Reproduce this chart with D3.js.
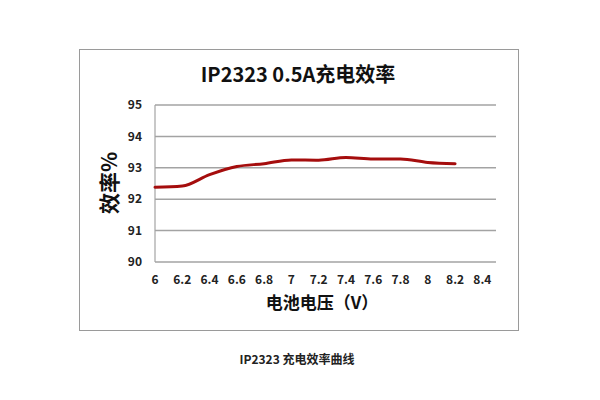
<!DOCTYPE html>
<html><head><meta charset="utf-8">
<script src="https://cdn.jsdelivr.net/npm/d3@7"></script>
<style>body{margin:0;background:#fff;} svg{display:block;}</style>
</head><body>
<svg id="c" width="600" height="400"></svg>
<script>
const voltages = [6.0, 6.2, 6.4, 6.6, 6.8, 7.0, 7.2, 7.4, 7.6, 7.8, 8.0, 8.2];
const efficiency = [92.38, 92.42, 92.78, 93.04, 93.13, 93.25, 93.24, 93.33, 93.28, 93.28, 93.17, 93.13];
const xTicks = [6, 6.2, 6.4, 6.6, 6.8, 7, 7.2, 7.4, 7.6, 7.8, 8, 8.2, 8.4];
const yTicks = [90, 91, 92, 93, 94, 95];
const title = "IP2323 0.5A充电效率";
const xTitle = "电池电压（V）";
const yTitle = "效率%";
const caption = "IP2323 充电效率曲线";

const svg = d3.select("#c");
const font = "'Noto Sans CJK SC','Noto Sans',sans-serif";
const L = 155, R = 496, T = 105, B = 262;
const x = d3.scaleLinear().domain([6, 8.5]).range([L, R]);
const y = d3.scaleLinear().domain([90, 95]).range([B, T]);

// frame
svg.append("rect").attr("x", 79.5).attr("y", 49.5).attr("width", 439).attr("height", 281)
  .attr("fill", "none").attr("stroke", "#9a9a9a").attr("stroke-width", 1);

// gridlines
svg.append("g").selectAll("line").data(yTicks).join("line")
  .attr("x1", L).attr("x2", R).attr("y1", d => y(d)).attr("y2", d => y(d))
  .attr("stroke", "#a3a3a3").attr("stroke-width", 1.5);
// left axis line
svg.append("line").attr("x1", L).attr("x2", L).attr("y1", T).attr("y2", B)
  .attr("stroke", "#a3a3a3").attr("stroke-width", 1.2);

// y tick labels
svg.append("g").selectAll("text").data(yTicks).join("text")
  .attr("x", 142).attr("y", d => y(d)).attr("dy", "0.35em").attr("text-anchor", "end")
  .attr("font-family", font).attr("font-size", 12).attr("font-weight", "bold").attr("fill", "#222")
  .text(d => d);
// x tick labels
svg.append("g").selectAll("text").data(xTicks).join("text")
  .attr("x", d => x(d)).attr("y", 280).attr("dy", "0.35em").attr("text-anchor", "middle")
  .attr("font-family", font).attr("font-size", 12).attr("font-weight", "bold").attr("fill", "#222")
  .text(d => d);

// line
const line = d3.line().x((d, i) => x(voltages[i])).y(d => y(d)).curve(d3.curveMonotoneX);
svg.append("path").datum(efficiency).attr("d", line)
  .attr("fill", "none").attr("stroke", "#a50d0d").attr("stroke-width", 3).attr("stroke-linecap", "round");

// titles
svg.append("text").attr("x", 298).attr("y", 82).attr("text-anchor", "middle")
  .attr("font-family", font).attr("font-size", 20).attr("font-weight", "bold").attr("fill", "#111").text(title);
svg.append("text").attr("x", 322).attr("y", 303).attr("dy", "0.35em").attr("text-anchor", "middle")
  .attr("font-family", font).attr("font-size", 17).attr("font-weight", "bold").attr("fill", "#111").text(xTitle);
svg.append("text").attr("transform", "translate(110,183) rotate(-90)").attr("dy", "0.35em").attr("text-anchor", "middle")
  .attr("font-family", font).attr("font-size", 21).attr("font-weight", "bold").attr("fill", "#111").text(yTitle);
svg.append("text").attr("x", 297).attr("y", 360).attr("dy", "0.35em").attr("text-anchor", "middle")
  .attr("font-family", font).attr("font-size", 12).attr("font-weight", "bold").attr("fill", "#222").text(caption);
</script>
</body></html>
